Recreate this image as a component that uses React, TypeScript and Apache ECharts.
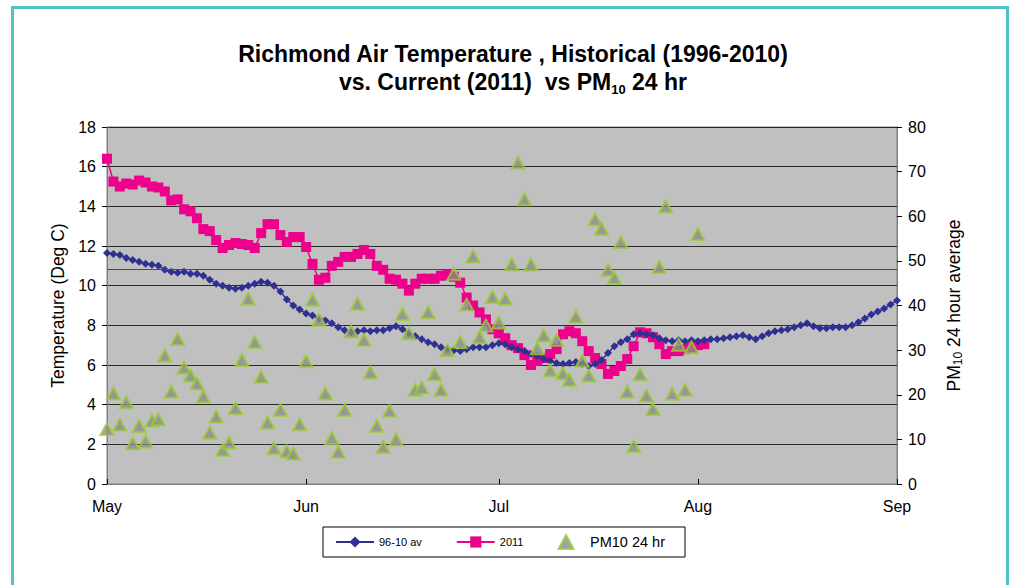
import React, { useEffect, useRef } from "react";
import * as echarts from "echarts";

const monthNames = ["May", "Jun", "Jul", "Aug", "Sep"];
const monthLengths = [31, 30, 31, 31, 1];

const avg9610 = [
  11.65, 11.6, 11.55, 11.4, 11.3, 11.2, 11.1, 11.05, 11.0, 10.8,
  10.7, 10.65, 10.7, 10.6, 10.6, 10.5, 10.3, 10.1, 10.0, 9.9,
  9.85, 9.9, 10.0, 10.1, 10.2, 10.15, 10.0, 9.7, 9.3, 9.0,
  8.8, 8.6, 8.5, 8.35, 8.25, 8.1, 7.9, 7.75, 7.65, 7.7,
  7.75, 7.7, 7.75, 7.75, 7.85, 7.95, 7.8, 7.6, 7.45, 7.3,
  7.15, 7.05, 6.9, 6.8, 6.75, 6.7, 6.8, 6.9, 6.9, 6.9,
  7.0, 7.1, 7.05, 6.9, 6.8, 6.7, 6.55, 6.45, 6.3, 6.2,
  6.1, 6.05, 6.1, 6.15, 6.05, 5.95, 6.05, 6.25, 6.6, 6.95,
  7.15, 7.3, 7.55, 7.6, 7.55, 7.5, 7.35, 7.25, 7.2, 7.25,
  7.2, 7.25, 7.2, 7.25, 7.3, 7.3, 7.35, 7.4, 7.45, 7.5,
  7.4, 7.3, 7.45, 7.6, 7.7, 7.75, 7.8, 7.9, 8.0, 8.1,
  7.95, 7.85, 7.85, 7.9, 7.9, 7.9, 8.0, 8.15, 8.35, 8.55,
  8.7, 8.85, 9.05, 9.25,
];

const temp2011 = [
  16.4, 15.25, 15.0, 15.15, 15.1, 15.3, 15.2, 15.0, 14.95, 14.75,
  14.3, 14.35, 13.85, 13.75, 13.4, 12.85, 12.75, 12.3, 11.9, 12.05,
  12.15, 12.1, 12.05, 11.9, 12.65, 13.1, 13.1, 12.55, 12.2, 12.45,
  12.45, 11.95, 11.1, 10.3, 10.4, 11.0, 11.2, 11.45, 11.45, 11.6,
  11.8, 11.6, 11.0, 10.8, 10.35, 10.3, 10.1, 9.75, 10.1, 10.35,
  10.35, 10.35, 10.5, 10.55, 10.45, 10.15, 9.4, 9.0, 8.65, 8.3,
  7.8, 7.6, 7.35, 7.0, 6.85, 6.5, 6.0, 6.2, 6.35, 6.55,
  6.8, 7.55, 7.7, 7.6, 7.2, 6.7, 6.35, 6.05, 5.55, 5.7,
  5.95, 6.3, 6.95, 7.65, 7.6, 7.4, 7.05, 6.55, 6.7, 6.7,
  6.8, 6.9, 7.0, 7.05,
];

const pm10 = [
  12.3, 20.3, 13.3, 18.3, 9.1, 13.0, 9.5, 14.2, 14.5, 28.8,
  20.7, 32.5, 26.1, 24.3, 22.5, 19.6, 11.5, 15.1, 7.6, 9.3,
  17.0, 27.8, 41.5, 31.8, 24.0, 13.8, 8.0, 16.6, 7.3, 6.8,
  13.4, 27.5, 41.3, 36.8, 20.3, 10.3, 7.2, 16.6, 34.2, 40.4,
  32.3, 25.0, 13.0, 8.3, 16.4, 10.0, 38.1, 33.8, 21.1, 21.6,
  38.5, 24.6, 21.1, 30.0, 47.1, 31.8, 40.2, 51.0, 32.9, 35.5,
  41.9, 36.2, 41.5, 49.2, 72.0, 63.8, 49.2, 30.4, 33.3, 25.5,
  32.3, 24.8, 23.3, 37.5, 27.6, 24.3, 59.3, 57.2, 48.0, 46.2,
  54.2, 20.7, 8.5, 24.6, 19.8, 16.8, 48.6, 62.2, 20.2, 31.2,
  21.1, 30.6, 56.0,
];

const refLine = 10.85;

const categories: string[] = [];
monthNames.forEach((m, i) => {
  for (let d = 1; d <= monthLengths[i]; d++) categories.push(`${d} ${m}`);
});

const FONT = "Liberation Sans, Arial, sans-serif";
const isMonthStart = (_i: number, v: string) => v.startsWith("1 ");

export default function App() {
  const ref = useRef<HTMLDivElement>(null);
  useEffect(() => {
    document.body.style.margin = "0";
    const chart = echarts.init(ref.current!, null, { renderer: "svg" });
    chart.setOption({
      animation: false,
      backgroundColor: "#ffffff",
      textStyle: { fontFamily: FONT },
      graphic: [
        {
          type: "rect",
          shape: { x: 12.5, y: 7.5, width: 995, height: 640 },
          style: { fill: "none", stroke: "#4FC3C7", lineWidth: 3 },
          silent: true,
        },
      ],
      title: {
        left: 508,
        top: 35,
        textAlign: "center",
        text:
          "{t|Richmond Air Temperature , Historical (1996-2010)}\n{t|vs. Current (2011)  vs PM}{s|10}{t| 24 hr}",
        textStyle: {
          rich: {
            t: { fontSize: 23, fontWeight: "bold", fontFamily: FONT, color: "#000", lineHeight: 28 },
            s: { fontSize: 13, fontWeight: "bold", fontFamily: FONT, color: "#000", lineHeight: 14, verticalAlign: "bottom" },
          },
        },
      },
      legend: {
        left: 323,
        top: 527,
        padding: [7, 20, 7, 12],
        itemGap: 34,
        itemWidth: 38,
        itemHeight: 14,
        borderColor: "#000",
        borderWidth: 1,
        backgroundColor: "#fff",
        textStyle: { fontSize: 11, color: "#000", fontFamily: FONT },
        data: [
          { name: "96-10 av" },
          { name: "2011" },
          {
            name: "PM10 24 hr",
            icon: "path://M6.5,0L13,12L0,12Z",
            itemStyle: { color: "#8C8C8C", borderColor: "#9ACD32", borderWidth: 2 },
            textStyle: { fontSize: 14.5, color: "#000", fontFamily: FONT },
          },
        ],
      },
      grid: {
        left: 107,
        right: 114,
        top: 127,
        bottom: 101,
        show: true,
        backgroundColor: "#C0C0C0",
        borderColor: "#808080",
        borderWidth: 1,
      },
      xAxis: {
        type: "category",
        data: categories,
        boundaryGap: false,
        axisLine: { lineStyle: { color: "#808080", width: 1 } },
        axisTick: { interval: isMonthStart, inside: true, length: 5, lineStyle: { color: "#000" } },
        axisLabel: {
          interval: isMonthStart,
          formatter: (v: string) => v.split(" ")[1],
          fontSize: 16,
          color: "#000",
          margin: 14,
          fontFamily: FONT,
        },
        splitLine: { show: false },
      },
      yAxis: [
        {
          type: "value",
          min: 0,
          max: 18,
          interval: 2,
          position: "left",
          name: "Temperature (Deg C)",
          nameLocation: "middle",
          nameRotate: 90,
          nameGap: 35,
          nameTextStyle: { fontSize: 17.5, color: "#000", fontFamily: FONT },
          axisLine: { show: true, lineStyle: { color: "#808080" } },
          axisTick: { show: true, length: 5, lineStyle: { color: "#000" } },
          axisLabel: { fontSize: 16, color: "#000", margin: 11, fontFamily: FONT },
          splitLine: { show: true, lineStyle: { color: "#2a2a2a", width: 1 } },
        },
        {
          type: "value",
          min: 0,
          max: 80,
          interval: 10,
          position: "right",
          name: "{a|PM}{b|10}{a| 24 hour average}",
          nameLocation: "middle",
          nameRotate: 90,
          nameGap: 47,
          nameTextStyle: {
            rich: {
              a: { fontSize: 17.5, color: "#000", fontFamily: FONT, lineHeight: 20 },
              b: { fontSize: 12, color: "#000", fontFamily: FONT, lineHeight: 12, verticalAlign: "bottom" },
            },
          },
          axisLine: { show: true, lineStyle: { color: "#808080" } },
          axisTick: { show: true, length: 5, lineStyle: { color: "#000" } },
          axisLabel: { fontSize: 16, color: "#000", margin: 11, fontFamily: FONT },
          splitLine: { show: false },
        },
      ],
      series: [
        {
          name: "2011",
          type: "line",
          data: temp2011,
          yAxisIndex: 0,
          symbol: "rect",
          symbolSize: 10,
          showSymbol: true,
          showAllSymbol: true,
          itemStyle: { color: "#EC008C" },
          lineStyle: { color: "#EC008C", width: 1.5 },
          z: 3,
        },
        {
          name: "96-10 av",
          type: "line",
          data: avg9610,
          yAxisIndex: 0,
          symbol: "diamond",
          symbolSize: 8,
          showSymbol: true,
          showAllSymbol: true,
          itemStyle: { color: "#2E3192" },
          lineStyle: { color: "#2E3192", width: 1.5 },
          z: 4,
          markLine: {
            silent: true,
            symbol: "none",
            label: { show: false },
            lineStyle: { color: "#FF0000", width: 1, type: "solid" },
            data: [{ yAxis: refLine }],
          },
        },
        {
          name: "PM10 24 hr",
          type: "scatter",
          data: pm10,
          yAxisIndex: 1,
          symbol: "triangle",
          symbolSize: [13, 12],
          itemStyle: { color: "#8C8C8C", borderColor: "#9ACD32", borderWidth: 2 },
          z: 5,
        },
      ],
    });
    return () => chart.dispose();
  }, []);
  return (
    <div
      ref={ref}
      style={{ position: "absolute", left: 0, top: 0, width: 1011, height: 585 }}
    />
  );
}
